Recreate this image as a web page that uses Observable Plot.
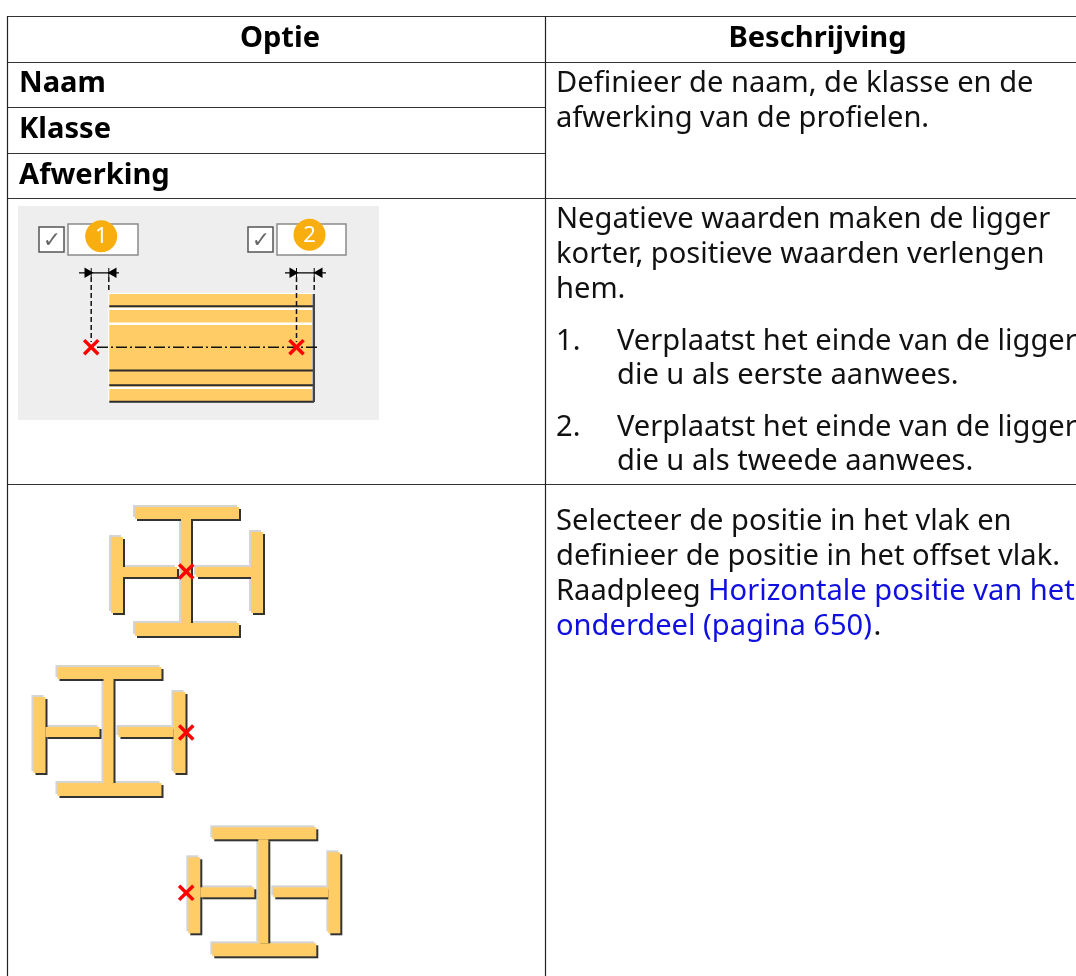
<!DOCTYPE html>
<html><head><meta charset="utf-8">
<style>html,body{margin:0;padding:0;background:#fff}svg{display:block;filter:blur(.35px)}</style>
<script src="https://cdn.jsdelivr.net/npm/d3@7"></script>
<script src="https://cdn.jsdelivr.net/npm/@observablehq/plot@0.6"></script>
</head><body><script>
// table grid
const ruleRows = [[16,7,1076],[62,7,1076],[107,7,545],[153,7,545],[198,7,1076],[484,7,1076]];
const ruleCols = [[7,16,976],[545,16,976]];
// texts
const headers = [["Optie",279.5,37.3],["Beschrijving",817,37.3]];
const options = [["Naam",18.5,82.3],["Klasse",18.5,128.3],["Afwerking",18.5,174.3]];
const bodyText = [
 ["Definieer de naam, de klasse en de",555.5,82.3],
 ["afwerking van de profielen.",555.5,117.3],
 ["Negatieve waarden maken de ligger",555.5,218.3],
 ["korter, positieve waarden verlengen",555.5,253.3],
 ["hem.",555.5,288.3],
 ["1.",555.5,340.3],
 ["Verplaatst het einde van de ligger",616.5,340.3],
 ["die u als eerste aanwees.",616.5,374.3],
 ["2.",555.5,426.3],
 ["Verplaatst het einde van de ligger",616.5,426.3],
 ["die u als tweede aanwees.",616.5,460.3],
 ["Selecteer de positie in het vlak en",555.5,520.3],
 ["definieer de positie in het offset vlak.",555.5,555.3],
 ["Raadpleeg",555.5,590.3],
 [".",873,625.3]
];
const linkText = [["Horizontale positie van het",707.5,590.3],["onderdeel (pagina 650)",555.5,625.3]];
// beam illustration
const panel = [[18,379,206,420]];
const checkBoxes = [[39,64,227,252],[248,273,227,252]];
const fields = [[68,138,224,255],[277,346,224,255]];
const badges = [["1",100.7,235.7],["2",309,234.3]];
const dimLines = [[79,119],[285,326]];
const dimY = 272.3;
const dimArrows = [[87,90],[113,-90],[292,90],[319,-90]];
const dimTicks = [[90.7,268,277],[108.3,268,277],[296,268,277],[313.7,268,277]];
const dashes = [[90.7,277,342],[108.3,277,293],[296,277,342],[313.7,277,293]];
const beam = [109.3,312,294,401];
const beamWhite = [[308.3,2.4],[323.3,2.4],[387.3,2.4]];
const beamDark = [[305.7,2],[370,2],[384.7,2],[401.3,2]];
const beamSide = [[313.3,294,402]];
const axisLine = [[97,318,346.7]];
const beamCrosses = [[90.7,346.7],[296,346.7]];
// cross-shaped section, one copy per position
const pieces = [
 [135,239,507,519],[181,191,519,623],[135,239,623,636],
 [111,123,537,613],[123,177,567,577],
 [251,263,532,613],[196,251,567,577]
];
const offsets = [[0,0],[-77.5,160],[77.3,320.3]];
const sectionCrosses = [[185.7,571],[185.7,732],[185.7,892.3]];

const rects = (dx,dy) => offsets.flatMap(([ox,oy]) => pieces.map(([a,b,c,d]) => ({x1:a+ox+dx,x2:b+ox+dx,y1:c+oy+dy,y2:d+oy+dy})));
const rectOf = ([x1,x2,y1,y2]) => ({x1,x2,y1,y2});
const orange = "#ffcc66";
const font = {fontSize:29.1, textAnchor:"start", fill:"#111"};

const chart = Plot.plot({
  width:1076, height:976, margin:0,
  style:{fontFamily:"'Noto Sans',sans-serif", background:"#fff"},
  x:{axis:null, domain:[0,1076], range:[0,1076]},
  y:{axis:null, domain:[0,976], range:[0,976]},
  marks:[
    Plot.rect(panel.map(rectOf),{x1:"x1",x2:"x2",y1:"y1",y2:"y2",fill:"#eeeeee"}),
    Plot.rect(fields.map(rectOf),{x1:"x1",x2:"x2",y1:"y1",y2:"y2",fill:"#fff",stroke:"#8a8a8a",strokeWidth:1.5}),
    Plot.rect(checkBoxes.map(rectOf),{x1:"x1",x2:"x2",y1:"y1",y2:"y2",fill:"#fff",stroke:"#555",strokeWidth:1.5}),
    Plot.text(checkBoxes,{x:d=>(d[0]+d[1])/2,y:d=>(d[2]+d[3])/2,text:()=>"✓",fontSize:22,fill:"#666",fontFamily:"DejaVu Sans"}),
    Plot.dot(badges,{x:d=>d[1],y:d=>d[2],r:16,fill:"#f9ae10"}),
    Plot.text(badges,{x:d=>d[1],y:d=>d[2],text:d=>d[0],fill:"#fff",fontSize:22}),
    // beam
    Plot.rect([rectOf([beam[0]-1,beam[1]+1,beam[2]-1,beam[3]+1])],{x1:"x1",x2:"x2",y1:"y1",y2:"y2",fill:"#fff"}),
    Plot.rect([rectOf(beam)],{x1:"x1",x2:"x2",y1:"y1",y2:"y2",fill:orange}),
    Plot.ruleY(beamWhite,{x1:beam[0],x2:beam[1],y:d=>d[0],strokeWidth:d=>d[1],stroke:"#fff"}),
    Plot.ruleY(beamDark,{x1:beam[0],x2:beam[1]+2,y:d=>d[0],strokeWidth:d=>d[1],stroke:"#2b2b2b"}),
    Plot.ruleX(beamSide,{x:d=>d[0],y1:d=>d[1],y2:d=>d[2],strokeWidth:2.4,stroke:"#444"}),
    // dimensions
    Plot.ruleY(dimLines,{x1:d=>d[0],x2:d=>d[1],y:dimY,stroke:"#000",strokeWidth:1.2}),
    Plot.ruleX(dimTicks,{x:d=>d[0],y1:d=>d[1],y2:d=>d[2],stroke:"#000",strokeWidth:1}),
    Plot.dot(dimArrows,{x:d=>d[0],y:dimY,rotate:d=>d[1],symbol:"triangle2",r:5,fill:"#000"}),
    Plot.ruleX(dashes,{x:d=>d[0],y1:d=>d[1],y2:d=>d[2],stroke:"#111",strokeWidth:1.5,strokeDasharray:"5,3"}),
    Plot.ruleY(axisLine,{x1:d=>d[0],x2:d=>d[1],y:d=>d[2],stroke:"#111",strokeWidth:1.5,strokeDasharray:"11,3,2,3"}),
    Plot.dot(beamCrosses,{x:d=>d[0],y:d=>d[1],symbol:"times",r:6.5,stroke:"#f00",strokeWidth:3.5}),
    // sections
    Plot.rect(rects(-2,-2),{x1:"x1",x2:"x2",y1:"y1",y2:"y2",fill:"#d4d4d4"}),
    Plot.rect(rects(2,2),{x1:"x1",x2:"x2",y1:"y1",y2:"y2",fill:"#333"}),
    Plot.rect(rects(0,0),{x1:"x1",x2:"x2",y1:"y1",y2:"y2",fill:orange}),
    Plot.dot(sectionCrosses,{x:d=>d[0],y:d=>d[1],symbol:"times",r:6.5,stroke:"#f00",strokeWidth:3.5}),
    // grid
    Plot.ruleY(ruleRows,{y:d=>d[0],x1:d=>d[1],x2:d=>d[2],stroke:"#333",strokeWidth:1.2}),
    Plot.ruleX(ruleCols,{x:d=>d[0],y1:d=>d[1],y2:d=>d[2],stroke:"#222",strokeWidth:1.2}),
    // text
    Plot.text(headers,{x:d=>d[1],y:d=>d[2],text:d=>d[0],fontSize:29.1,fontWeight:700,fill:"#000",textAnchor:"middle"}),
    Plot.text(options,{x:d=>d[1],y:d=>d[2],text:d=>d[0],fontWeight:700,...font,fill:"#000"}),
    Plot.text(bodyText,{x:d=>d[1],y:d=>d[2],text:d=>d[0],...font}),
    Plot.text(linkText,{x:d=>d[1],y:d=>d[2],text:d=>d[0],...font,fill:"#0f0fe0"})
  ]
});
document.body.append(chart);
</script></body></html>
